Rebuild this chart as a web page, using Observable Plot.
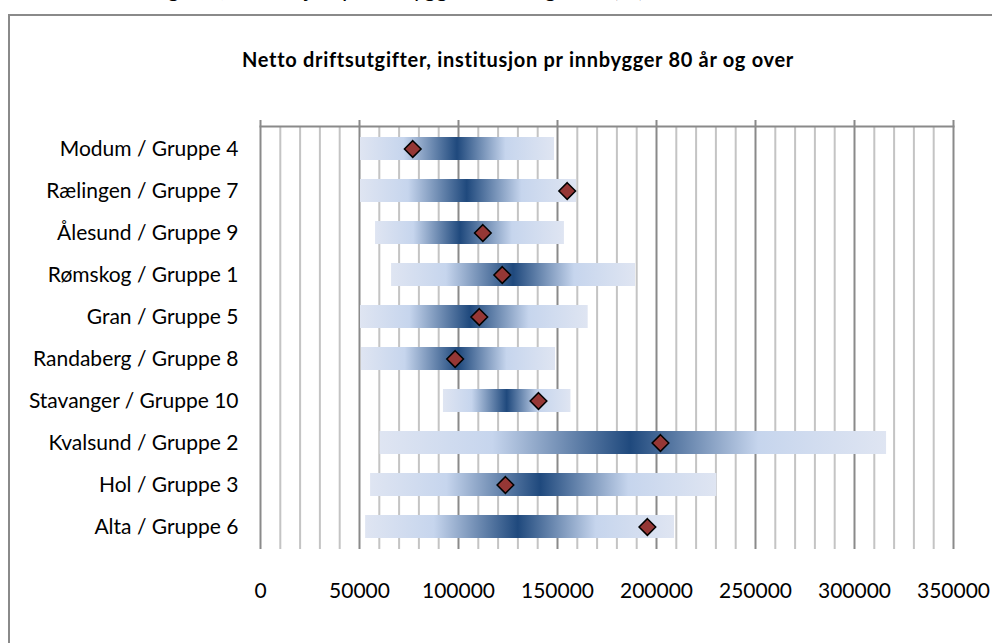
<!DOCTYPE html>
<html>
<head>
<meta charset="utf-8">
<script src="https://cdn.jsdelivr.net/npm/d3@7"></script>
<script src="https://cdn.jsdelivr.net/npm/@observablehq/plot@0.6"></script>
<style>
  html, body { margin: 0; padding: 0; background: #fff; }
  #page { position: relative; width: 992px; height: 643px; overflow: hidden; background: #fff; }
  #frame { position: absolute; left: 8px; top: 14px; width: 1200px; height: 900px;
           border-left: 2px solid #8a8a8a; border-top: 2px solid #8a8a8a; }
  #cut { position: absolute; left: 30px; top: -23px; font-family: Lato, sans-serif;
         font-size: 23px; line-height: 22px; white-space: nowrap; color: #000; }
  #title { position: absolute; left: 44px; width: 948px; top: 47px; text-align: center;
           font-family: Lato, sans-serif; font-weight: bold; font-size: 20px; letter-spacing: 0.7px;
           line-height: 24px; color: #000; }
  #chart { position: absolute; left: 0; top: 0; }
</style>
</head>
<body>
<div id="page">
  <div id="frame"></div>
  <div id="cut">Netto driftsutgifter, institusjon pr innbygger 80 år og over (kr)</div>
  <div id="chart"></div>
  <div id="title">Netto driftsutgifter, institusjon pr innbygger 80 år og over</div>
</div>
<script>
// Categories (top to bottom)
const names = [
  "Modum / Gruppe 4",
  "Rælingen / Gruppe 7",
  "Ålesund / Gruppe 9",
  "Rømskog / Gruppe 1",
  "Gran / Gruppe 5",
  "Randaberg / Gruppe 8",
  "Stavanger / Gruppe 10",
  "Kvalsund / Gruppe 2",
  "Hol / Gruppe 3",
  "Alta / Gruppe 6"
];
// Group minimum, median and maximum (gradient bar), and municipality value (diamond)
const minValues    = [50500, 50500, 58100, 66200, 50500, 51000, 92400, 60400, 55600, 53100];
const medianValues = [99500, 104400, 101000, 127800, 106000, 100000, 124600, 187000, 141500, 130200];
const maxValues    = [148500, 159600, 153500, 189400, 165500, 149000, 156800, 316200, 230500, 209100];
const kommuneValues = [76900, 154900, 112300, 122100, 110500, 98300, 140400, 202000, 123700, 195400];

// Axis ticks
const majorTicks = [0, 50000, 100000, 150000, 200000, 250000, 300000, 350000];
const minorTicks = [10000, 20000, 30000, 40000, 60000, 70000, 80000, 90000,
  110000, 120000, 130000, 140000, 160000, 170000, 180000, 190000,
  210000, 220000, 230000, 240000, 260000, 270000, 280000, 290000,
  310000, 320000, 330000, 340000];

const rows = names.map((name, i) => ({
  name, min: minValues[i], median: medianValues[i], max: maxValues[i], value: kommuneValues[i], id: "grad" + i
}));

const plot = Plot.plot({
  width: 992,
  height: 643,
  marginLeft: 260,
  marginRight: 39,
  marginTop: 126,
  marginBottom: 94,
  style: { background: "transparent", fontFamily: "Lato, sans-serif", fontSize: "21px", color: "#000" },
  x: { domain: [0, 350000], axis: null },
  y: { domain: names, paddingInner: 0.45, paddingOuter: 0.225, axis: null },
  color: { type: "identity" },
  marks: [
    Plot.ruleX(minorTicks, { x: d => d, stroke: "#c4c4c4", strokeWidth: 2 }),
    Plot.ruleX(majorTicks, { x: d => d, stroke: "#8a8a8a", strokeWidth: 2, insetTop: -6 }),
    Plot.frame({ anchor: "top", stroke: "#8a8a8a", strokeWidth: 2 }),
    Plot.barX(rows, { y: "name", x1: "min", x2: "max", fill: d => `url(#${d.id})` }),
    Plot.dot(rows, { x: "value", y: "name", symbol: "diamond2", r: 7.5, fill: "#953735", stroke: "#000", strokeWidth: 1.5 }),
    Plot.axisY({ tickSize: 0, tickPadding: 22, fontSize: 21, label: null }),
    Plot.axisX({ anchor: "bottom", ticks: majorTicks, tickSize: 0, tickPadding: 34, tickFormat: d => String(d), fontSize: 21, label: null })
  ]
});

const defs = d3.select(plot).insert("defs", ":first-child");
rows.forEach(r => {
  const t = (r.median - r.min) / (r.max - r.min);
  const g = defs.append("linearGradient").attr("id", r.id)
    .attr("x1", "0").attr("x2", "1").attr("y1", "0").attr("y2", "0");
  const stops = [
    [0, "#dfe5f2"],
    [t * 0.45, "#c6d5ed"],
    [t, "#1f497d"],
    [t + (1 - t) * 0.5, "#c6d5ed"],
    [1, "#dfe5f2"]
  ];
  stops.forEach(([o, c]) => g.append("stop").attr("offset", o).attr("stop-color", c));
});

document.getElementById("chart").appendChild(plot);
</script>
</body>
</html>
